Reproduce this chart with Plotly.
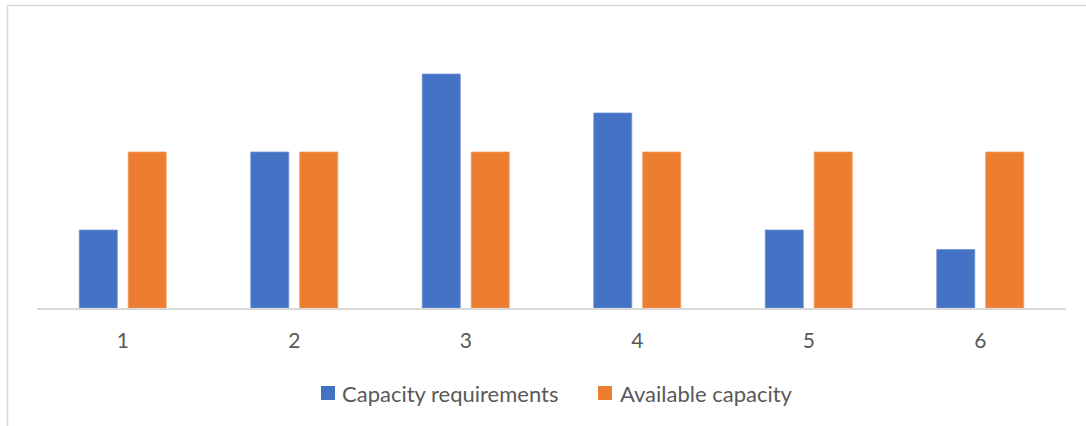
import plotly.graph_objects as go

categories = ["1", "2", "3", "4", "5", "6"]
capacity_requirements = [4, 8, 12, 10, 4, 3]
available_capacity = [8, 8, 8, 8, 8, 8]
series_names = ["Capacity requirements", "Available capacity"]
series_colors = ["#4472C4", "#ED7D31"]

W, H = 1086, 426
L, R, T, B = 37, 20, 35, 118
plot_w = W - L - R
plot_h = H - T - B

fig = go.Figure()
fig.add_trace(go.Bar(
    x=categories, y=capacity_requirements, name=series_names[0],
    marker=dict(color=series_colors[0], line=dict(color="#6f93d3", width=0.8)),
))
fig.add_trace(go.Bar(
    x=categories, y=available_capacity, name=series_names[1],
    marker=dict(color=series_colors[1], line=dict(color="#f29a5c", width=0.8)),
))

# pixel -> paper coordinate helpers
px = lambda v: (v - L) / plot_w
py = lambda v: (H - B - v) / plot_h

# chart frame: light border on top and left edges
fig.add_shape(type="line", xref="paper", yref="paper",
              x0=px(7.5), x1=px(W + 5), y0=py(5.5), y1=py(5.5),
              line=dict(color="#d9d9d9", width=1.5))
fig.add_shape(type="line", xref="paper", yref="paper",
              x0=px(7.5), x1=px(7.5), y0=py(5.5), y1=py(H + 5),
              line=dict(color="#d9d9d9", width=1.5))

# legend below the axis: colour square followed by series name
legend_items = [(321, 340), (598, 618)]
for (sq_x, txt_x), name, color in zip(legend_items, series_names, series_colors):
    fig.add_shape(type="rect", xref="paper", yref="paper",
                  x0=px(sq_x), x1=px(sq_x + 14), y0=py(400), y1=py(386),
                  fillcolor=color, line=dict(width=0))
    fig.add_annotation(xref="paper", yref="paper", x=px(txt_x), y=py(393),
                       xanchor="left", yanchor="middle", showarrow=False,
                       text=name, font=dict(size=22, color="#595959"))

fig.update_layout(
    width=W, height=H,
    margin=dict(l=L, r=R, t=T, b=B, pad=0),
    paper_bgcolor="white", plot_bgcolor="white",
    barmode="group", bargap=0.429, bargroupgap=0.224,
    font=dict(family="Lato, Open Sans, sans-serif", size=21, color="#595959"),
    xaxis=dict(
        type="category", showgrid=False, zeroline=False,
        showline=True, linecolor="#d9d9d9", linewidth=1.5,
        ticks="", ticklen=0, tickfont=dict(size=21, color="#595959"),
        ticklabelstandoff=13,
    ),
    yaxis=dict(range=[0, 14], visible=False, showgrid=False, zeroline=False),
    showlegend=False,
)

fig.write_html("out.html")
